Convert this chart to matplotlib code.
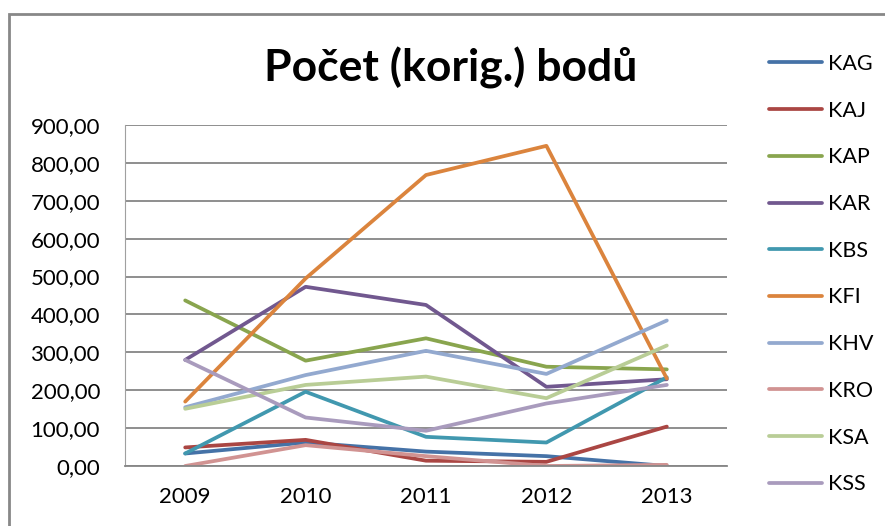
import matplotlib
matplotlib.use("Agg")
import matplotlib.pyplot as plt
import matplotlib.patches as mpatches
from matplotlib.ticker import FuncFormatter

years = ["2009", "2010", "2011", "2012", "2013"]
names = ["KAG", "KAJ", "KAP", "KAR", "KBS", "KFI", "KHV", "KRO", "KSA", "KSS"]

kag = [33, 62, 38, 26, 0]
kaj = [49, 69, 14, 11, 104]
kap = [437, 278, 337, 262, 255]
kar = [280, 473, 425, 209, 229]
kbs = [33, 196, 77, 62, 234]
kfi = [170, 495, 768, 845, 231]
khv = [155, 240, 304, 243, 384]
kro = [0, 55, 26, 0, 3]
ksa = [151, 214, 236, 179, 318]
kss = [280, 128, 93, 165, 214]

series = [kag, kaj, kap, kar, kbs, kfi, khv, kro, ksa, kss]
colors = ["#4572A7", "#AA4643", "#89A54E", "#71588F", "#4198AF",
          "#DB843D", "#93A9CF", "#D19392", "#B9CD96", "#A99BBD"]

plt.rcParams['font.family'] = ['Lato', 'DejaVu Sans']

fig = plt.figure(figsize=(8.85, 5.26), dpi=100)
ax = fig.add_axes([125 / 885, 60 / 526, 602 / 885, 341 / 526])

x = range(len(years))
for vals, name, c in zip(series, names, colors):
    ax.plot(x, vals, color=c, lw=2.7, label=name, solid_capstyle='round')

ax.set_xlim(-0.5, 4.5)
ax.set_ylim(0, 900)
ax.set_yticks(range(0, 901, 100))
ax.yaxis.set_major_formatter(FuncFormatter(lambda v, p: f"{v:.2f}".replace(".", ",")))
ax.set_xticks(list(x))
ax.set_xticklabels(years)
ax.grid(axis='y', color='#868686', lw=1.3)
ax.set_axisbelow(True)
ax.tick_params(length=0, labelsize=16, colors='black')
ax.tick_params(axis='x', pad=15)
ax.tick_params(axis='y', pad=18)
for s in ['top', 'right']:
    ax.spines[s].set_visible(False)
ax.spines['left'].set_color('#a0a0a0')
ax.spines['left'].set_linewidth(0.8)
ax.spines['bottom'].set_color('#868686')
ax.spines['bottom'].set_linewidth(1.3)

fig.text(451 / 885, 1 - 68 / 526, "Počet (korig.) bodů", ha='center', va='center',
         fontsize=32, fontweight='bold')

fig.legend(loc='upper left', bbox_to_anchor=(769 / 885, 1 - 54 / 526), frameon=False,
           fontsize=15.5, labelspacing=1.24, handlelength=2.46, handletextpad=0.28,
           borderaxespad=0, borderpad=0)

frame = mpatches.Rectangle((9 / 885, -0.1), 1.2, 1.1 - 14 / 526, transform=fig.transFigure,
                           fill=False, edgecolor='#888888', lw=2, clip_on=False)
fig.patches.append(frame)

fig.savefig("out.png", dpi=100)
